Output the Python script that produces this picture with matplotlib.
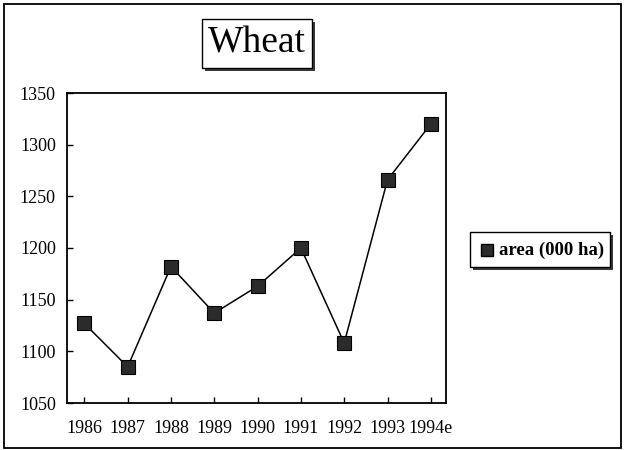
import matplotlib.pyplot as plt
from matplotlib.patches import Rectangle

plt.rcParams['font.family'] = ['Liberation Serif', 'DejaVu Serif']

years = ['1986', '1987', '1988', '1989', '1990', '1991', '1992', '1993', '1994e']
area = [1127, 1085, 1182, 1137, 1163, 1200, 1108, 1266, 1320]

W, H = 624, 450
fig = plt.figure(figsize=(W / 100, H / 100), dpi=100)

def px_rect(x0, y0, x1, y1, **kw):
    # rectangle given in pixel coords from top-left
    r = Rectangle((x0 / W, 1 - y1 / H), (x1 - x0) / W, (y1 - y0) / H,
                  transform=fig.transFigure, **kw)
    fig.add_artist(r)
    return r

# outer frame
px_rect(4, 4, 621, 448, fill=False, edgecolor='black', linewidth=1.3)

ax = fig.add_axes([67 / W, 1 - 403 / H, (446 - 67) / W, (403 - 93) / H])
x = list(range(len(years)))
ax.plot(x, area, color='black', linewidth=1.1, marker='s', markersize=10,
        markerfacecolor='#2b2b2b', markeredgecolor='black', markeredgewidth=0.8)

ax.set_xlim(-0.4, 8.35)
ax.set_ylim(1050, 1350)
ax.set_yticks(range(1050, 1351, 50))
ax.set_xticks(x)
ax.set_xticklabels(years)
ax.tick_params(direction='in', length=4, width=1, labelsize=13)
ax.tick_params(axis='x', pad=12)
ax.tick_params(axis='y', pad=8)
for s in ax.spines.values():
    s.set_linewidth(1.3)

# title box with shadow
px_rect(205, 22, 315, 71, facecolor='#3a3a3a', edgecolor='none')
px_rect(202, 19, 312, 68, facecolor='white', edgecolor='black', linewidth=1)
fig.text(257 / W, 1 - 43 / H, 'Wheat', ha='center', va='center', fontsize=27)

# legend box with shadow
px_rect(473, 235, 613, 270, facecolor='#3a3a3a', edgecolor='none')
px_rect(470, 232, 610, 267, facecolor='white', edgecolor='black', linewidth=1)
fig.add_artist(plt.Line2D([487 / W], [1 - 250 / H], marker='s', markersize=9,
                          markerfacecolor='#2b2b2b', markeredgecolor='black',
                          transform=fig.transFigure))
fig.text(499 / W, 1 - 250 / H, 'area (000 ha)', ha='left', va='center',
         fontsize=13.5, fontweight='bold')

fig.savefig('out.png', dpi=100)
